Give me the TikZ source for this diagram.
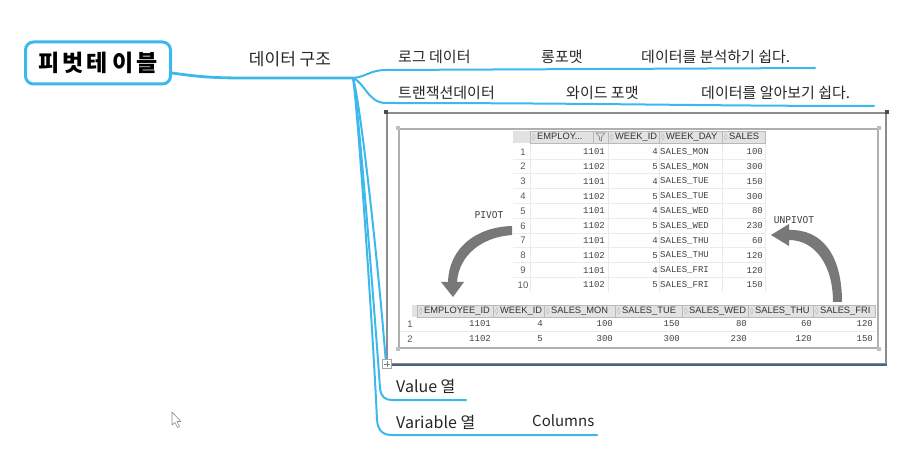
\documentclass[tikz,border=0pt]{standalone}
\usepackage{fontspec}
\setmainfont{Noto Sans CJK KR}
\newfontfamily\hdrfont{Liberation Sans}
\newfontfamily\valfont{Liberation Mono}
\newfontfamily\lblfont{DejaVu Sans Mono}
\newfontfamily\symfont{DejaVu Sans}
\usepackage{tikz}
\usetikzlibrary{positioning}

\definecolor{mmblue}{RGB}{60,184,236}
\definecolor{framegray}{RGB}{140,140,140}
\definecolor{innergray}{RGB}{175,175,175}
\definecolor{selblue}{RGB}{70,100,130}
\definecolor{hdrfill}{RGB}{226,226,226}
\definecolor{hdrline}{RGB}{185,185,185}
\definecolor{arrowgray}{RGB}{120,120,120}

\newcommand{\sorticon}{{\symfont\color{black!35}\fontsize{7}{8}\selectfont ◊}\,}

\begin{document}
\begin{tikzpicture}[x=1pt, y=-1pt,
    every node/.style={inner sep=0pt},
    rootbox/.style={draw=mmblue, line width=3pt, rounded corners=8pt, minimum width=145pt, minimum height=42pt, font=\bfseries\fontsize{23}{26}\selectfont},
    mmtext/.style={anchor=west, font=\fontsize{15}{18}\selectfont, text=black!85},
    branch/.style={draw=mmblue, line width=2pt, line cap=round},
    hdr/.style={anchor=west, font=\hdrfont\fontsize{9.3}{10}\selectfont, text=black!80},
    val/.style={anchor=east, font=\valfont\fontsize{9}{10}\selectfont, text=black!75},
    rownum/.style={font=\hdrfont\fontsize{9.5}{10}\selectfont, text=black!65},
    swlabel/.style={font=\lblfont\fontsize{9.5}{11}\selectfont, text=black!75},
    faint/.style={draw=black!8, line width=0.5pt}
]
\useasboundingbox (0,0) rectangle (919,465);

% Root topic
\node[rootbox] (root) at (98,63) {피\hspace{3pt}벗\hspace{3pt}테\hspace{5pt}이\hspace{3pt}블};
\node[font=\fontsize{17}{20}\selectfont, text=black!85] (struct) at (290,59) {데이터 구조};
\coordinate (jn) at (353,78);
\draw[branch, line width=2.8pt] ([yshift=-10pt]root.east) .. controls (200,77) and (215,78) .. (245,78) -- (jn);

% Data structure rows
\node[mmtext] (log) at (398,57) {로그 데이터};
\node[mmtext] (longfmt) at (541,57) {롱포맷};
\node[mmtext] (easy1) at (641,57) {데이터를 분석하기 쉽다.};
\coordinate (l1a) at (386,70);
\coordinate (l1b) at (815,68);
\draw[branch] (jn) .. controls (366,77) and (370,70) .. (l1a) -- (l1b);

\node[mmtext] (trans) at (398,93) {트랜잭션데이터};
\node[mmtext] (widefmt) at (566,93) {와이드 포맷};
\node[mmtext] (easy2) at (701,93) {데이터를 알아보기 쉽다.};
\coordinate (l2a) at (386,103);
\coordinate (l2b) at (874,106);
\draw[branch] (jn) .. controls (365,83) and (368,103) .. (l2a) .. controls (600,103) and (700,106) .. (l2b);

% Value / Variable rows
\node[mmtext, font=\fontsize{16}{19}\selectfont] (value) at (396,386) {Value 열};
\coordinate (v1) at (392,400);
\coordinate (v2) at (466,400);
\draw[branch] (jn) .. controls (358,100) and (376,330) .. (380,388) .. controls (381,397) and (385,400) .. (v1) -- (v2);

\node[mmtext, font=\fontsize{16}{19}\selectfont] (variable) at (396,422) {Variable 열};
\node[mmtext] (columns) at (532,421) {Columns};
\coordinate (w1) at (392,435);
\coordinate (w2) at (597,435);
\draw[branch] (jn) .. controls (357,100) and (373,330) .. (377,420) .. controls (378,431) and (383,435) .. (w1) -- (w2);

% Image topic
\node[draw=framegray, line width=1.8pt, minimum width=499pt, minimum height=251pt] (img) at (636.5,238.5) {};
\draw[branch] (jn) .. controls (360,100) and (378,260) .. (img.south west);
\draw[selblue, line width=2pt] (img.south west) -- (img.south east);
\fill[black!70] ([xshift=-2pt,yshift=2pt]img.north west) rectangle ([xshift=2pt,yshift=-2pt]img.north west);
\fill[black!70] ([xshift=-2pt,yshift=2pt]img.north east) rectangle ([xshift=2pt,yshift=-2pt]img.north east);
\node[draw=innergray, line width=1.6pt, minimum width=479pt, minimum height=219pt] (inner) at (638.5,238.5) {};
\foreach \c in {north west, north east, south west, south east}
    \fill[black!25] ([xshift=-2pt,yshift=2pt]inner.\c) rectangle ([xshift=2pt,yshift=-2pt]inner.\c);
\node[draw=black!35, fill=white, minimum size=9pt] (mv) at (387,364) {};
\draw[black!50, line width=0.6pt] ([xshift=-3pt]mv.center) -- ([xshift=3pt]mv.center) ([yshift=-3pt]mv.center) -- ([yshift=3pt]mv.center);

% Long table
\fill[hdrfill] (513,131) rectangle (765,143);
\foreach \x in {530,608,659,722,765}
    \draw[faint] (\x,143) -- (\x,292);
\foreach \k in {1,...,9}
    \draw[faint] (513,144+14.8*\k) -- (765,144+14.8*\k);
\foreach \xa/\xb/\htxt [count=\i] in {530/593/{EMPLOY...}, 608/659/{WEEK\_ID}, 659/722/{WEEK\_DAY}, 722/765/{SALES}} {
    \draw[hdrline, line width=0.6pt] (\xa,131) rectangle (\xb,143);
    \node[hdr] (th\i) at (\xa+2,137) {\sorticon\htxt};
}
\draw[hdrline, line width=0.6pt] (593,131) rectangle (608,143);
\draw[black!45, line width=0.6pt, line join=round] (596,133) -- (605,133) -- (601.5,137) -- (601.5,141) -- (599.5,140) -- (599.5,137) -- cycle;
\foreach \rn/\emp/\wkid/\wkday/\sls in {1/1101/4/SALES\_MON/100, 2/1102/5/SALES\_MON/300, 3/1101/4/SALES\_TUE/150, 4/1102/5/SALES\_TUE/300, 5/1101/4/SALES\_WED/80, 6/1102/5/SALES\_WED/230, 7/1101/4/SALES\_THU/60, 8/1102/5/SALES\_THU/120, 9/1101/4/SALES\_FRI/120, 10/1102/5/SALES\_FRI/150} {
    \node[rownum] (tn\rn) at (523,137+14.8*\rn) {\rn};
    \node[val] (te\rn) at (605,137+14.8*\rn) {\emp};
    \node[val] (tw\rn) at (658,137+14.8*\rn) {\wkid};
    \node[val, anchor=west] (td\rn) at (660,137+14.8*\rn) {\wkday};
    \node[val] (ts\rn) at (763,137+14.8*\rn) {\sls};
}

% Wide table
\fill[hdrfill] (412,305) rectangle (875,317);
\draw[faint] (400,331.5) -- (875,331.5);
\foreach \xa/\xb/\htxt [count=\i] in {417/493/{EMPLOYEE\_ID}, 493/544/{WEEK\_ID}, 544/615/{SALES\_MON}, 615/682/{SALES\_TUE}, 682/748/{SALES\_WED}, 748/813/{SALES\_THU}, 813/875/{SALES\_FRI}} {
    \draw[hdrline, line width=0.6pt] (\xa,305) rectangle (\xb,317);
    \node[hdr] (bh\i) at (\xa+2,311) {\sorticon\htxt};
}
\foreach \rn/\emp/\wkid/\mon/\tue/\wed/\thu/\fri in {1/1101/4/100/150/80/60/120, 2/1102/5/300/300/230/120/150} {
    \node[rownum] (bn\rn) at (410,309+15*\rn) {\rn};
    \node[val] (be\rn) at (491,309+15*\rn) {\emp};
    \node[val] (bw\rn) at (543,309+15*\rn) {\wkid};
    \node[val] (bm\rn) at (613,309+15*\rn) {\mon};
    \node[val] (bt\rn) at (680,309+15*\rn) {\tue};
    \node[val] (bwd\rn) at (747,309+15*\rn) {\wed};
    \node[val] (bth\rn) at (812,309+15*\rn) {\thu};
    \node[val] (bf\rn) at (873,309+15*\rn) {\fri};
}

% Pivot / unpivot arrows
\node[swlabel] (pivot) at (489,215) {PIVOT};
\node[swlabel] (unpivot) at (794,220) {UNPIVOT};
\fill[arrowgray] (448,282) .. controls (449,248) and (476,227) .. (512,226) -- (512,235)
    .. controls (482,237) and (459,255) .. (457,282) -- (464,282) -- (453,297) -- (441,282) -- cycle;
\fill[arrowgray] (789,230) .. controls (822,229) and (842,255) .. (842,302) -- (833,302)
    .. controls (833,265) and (815,240) .. (789,240) -- (789,246) -- (771,235) -- (789,224) -- cycle;

% Mouse pointer
\draw[black!45, fill=white, line width=0.6pt, line join=round] (172,412) -- (172,425) -- (175,422.5) -- (177.5,427.5) -- (179.5,426.5) -- (177,421.5) -- (181,421.5) -- cycle;

\end{tikzpicture}
\end{document}
